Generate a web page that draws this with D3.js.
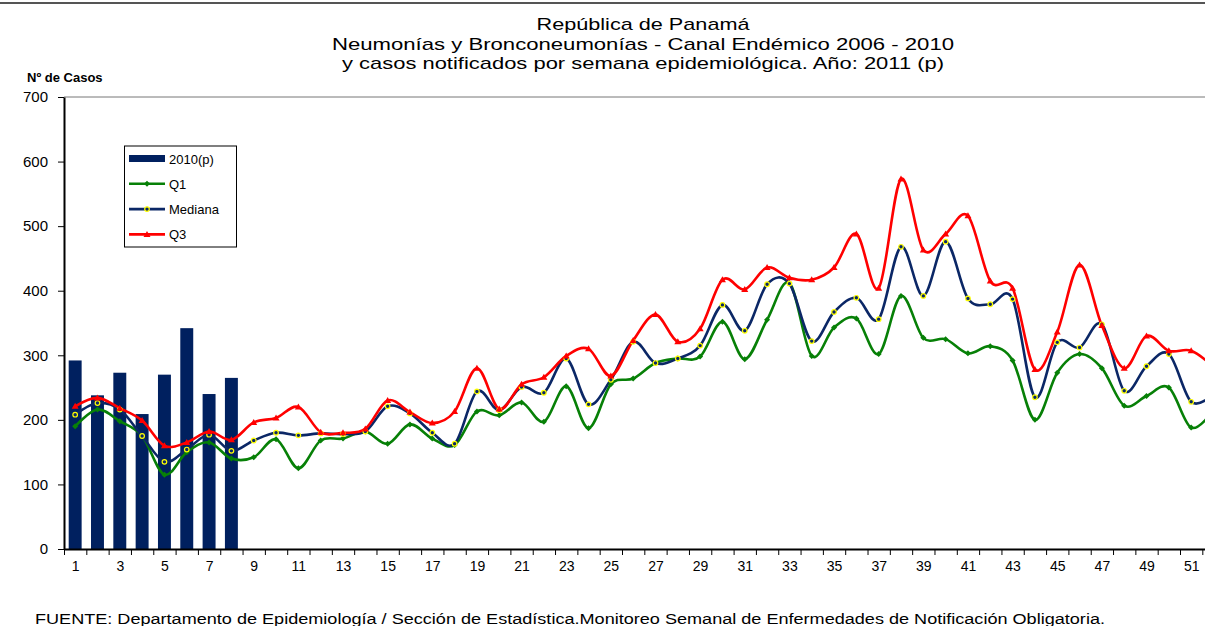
<!DOCTYPE html>
<html>
<head>
<meta charset="utf-8">
<script src="https://cdn.jsdelivr.net/npm/d3@7"></script>
<style>
  body { margin: 0; background: #fff; }
  svg { display: block; font-family: Arial, "Liberation Sans", sans-serif; }
</style>
</head>
<body>
<script>
// data
let weeks = d3.range(1, 53);
let bars2010 = [292, 238, 273, 209, 270, 342, 240, 265];
let q1 = [190, 216, 198, 175, 115, 150, 165, 140, 142, 170, 125, 168, 171, 182, 163, 193, 171, 161, 213, 207,
          227, 197, 252, 187, 255, 264, 288, 295, 298, 352, 294, 355, 412, 299, 343, 357, 302, 392, 327, 325,
          303, 314, 292, 200, 273, 302, 280, 222, 237, 250, 188, 215];
let mediana = [208, 226, 216, 175, 135, 154, 177, 152, 168, 180, 176, 179, 178, 182, 221, 210, 180, 163, 244, 215,
          251, 242, 295, 224, 262, 321, 288, 295, 315, 378, 338, 410, 411, 322, 367, 389, 356, 468, 392, 476,
          388, 379, 387, 235, 320, 312, 348, 245, 283, 302, 228, 240];
let q3 = [221, 234, 218, 199, 160, 165, 182, 169, 196, 203, 220, 181, 180, 186, 230, 212, 195, 213, 280, 217,
          255, 266, 299, 310, 268, 323, 363, 321, 341, 417, 402, 436, 420, 417, 436, 488, 404, 573, 463, 488,
          516, 415, 404, 278, 336, 440, 346, 280, 330, 307, 307, 282];
let yTicks = [0, 100, 200, 300, 400, 500, 600, 700];
let titleLines = ['República de Panamá',
                  'Neumonías y Bronconeumonías - Canal Endémico 2006  -  2010',
                  'y casos notificados por semana epidemiológica. Año: 2011 (p)'];
let fuente = 'FUENTE:  Departamento de Epidemiología / Sección de Estadística.Monitoreo Semanal de Enfermedades de Notificación Obligatoria.';

// canvas
let width = 1205;
let height = 626;
let plotLeft = 64, plotTop = 97, plotBottom = 549;
let step = 22.32;
let plotRight = plotLeft + step * weeks.length;   // plot runs past the right edge, as in the original

let svg = d3.select('body').append('svg')
  .attr('width', width)
  .attr('height', height);

// scales
let xBand = d3.scaleBand().domain(weeks).range([plotLeft, plotRight]).paddingInner(0.42).paddingOuter(0.21);
let xLin = d3.scaleLinear().domain([0.5, weeks.length + 0.5]).range([plotLeft, plotRight]);
let y = d3.scaleLinear().domain([0, 700]).range([plotBottom, plotTop]);

// frame lines
svg.append('line').attr('x1', 0).attr('x2', width).attr('y1', 3).attr('y2', 3)
  .attr('stroke', '#555').attr('stroke-width', 2);
svg.append('line').attr('x1', plotLeft).attr('x2', width).attr('y1', y(700)).attr('y2', y(700))
  .attr('stroke', '#777').attr('stroke-width', 1);

// titles
let titleLens = [213, 622, 602];
svg.selectAll('text.title')
  .data(titleLines)
  .enter()
  .append('text')
    .attr('class', 'title')
    .attr('x', (d, i) => 643 - titleLens[i] / 2)
    .attr('y', (d, i) => 30 + i * 19.5)
    .attr('textLength', (d, i) => titleLens[i])
    .attr('lengthAdjust', 'spacingAndGlyphs')
    .style('font-size', '17px')
    .attr('fill', '#000')
    .text(d => d);

svg.append('text')
  .attr('x', 27).attr('y', 82)
  .style('font-size', '13px').style('font-weight', 'bold')
  .text('Nº de Casos');

// bars
svg.selectAll('rect.bar')
  .data(bars2010)
  .enter()
  .append('rect')
    .attr('class', 'bar')
    .attr('x', (d, i) => xBand(weeks[i]))
    .attr('y', d => y(d))
    .attr('width', xBand.bandwidth())
    .attr('height', d => plotBottom - y(d))
    .attr('fill', '#00205f');

// lines
let lineGen = d3.line()
  .x((d, i) => xLin(weeks[i]))
  .y(d => y(d))
  .curve(d3.curveCatmullRom.alpha(0));

let series = [
  { name: 'Q1', values: q1, color: '#078007' },
  { name: 'Mediana', values: mediana, color: '#0b2766' },
  { name: 'Q3', values: q3, color: '#ff0000' }
];

series.forEach(s => {
  svg.append('path')
    .attr('d', lineGen(s.values))
    .attr('fill', 'none')
    .attr('stroke', s.color)
    .attr('stroke-width', 2.6);
});

// markers
let drawMarker = (g, name, cx, cy) => {
  if (name === 'Q1') {
    g.append('path')
      .attr('d', `M${cx},${cy - 3}L${cx + 3},${cy}L${cx},${cy + 3}L${cx - 3},${cy}Z`)
      .attr('fill', '#078007');
  } else if (name === 'Mediana') {
    g.append('circle').attr('cx', cx).attr('cy', cy).attr('r', 2.3)
      .attr('fill', '#0b2766').attr('stroke', '#ffff00').attr('stroke-width', 1.2);
  } else {
    g.append('path')
      .attr('d', `M${cx},${cy - 3.5}L${cx + 3.5},${cy + 2.5}L${cx - 3.5},${cy + 2.5}Z`)
      .attr('fill', '#ff0000');
  }
};
series.forEach(s => {
  let g = svg.append('g');
  s.values.forEach((v, i) => drawMarker(g, s.name, xLin(weeks[i]), y(v)));
});

// axes
let yAxis = svg.append('g')
  .attr('transform', `translate(${plotLeft},0)`)
  .call(d3.axisLeft(y).tickValues(yTicks).tickSize(6).tickSizeOuter(0).tickPadding(10));
yAxis.select('.domain').attr('stroke', '#000').attr('stroke-width', 2);
yAxis.selectAll('text').style('font-size', '15px').attr('fill', '#000');

let xTickAxis = svg.append('g')
  .attr('transform', `translate(0,${plotBottom})`)
  .call(d3.axisBottom(xLin).tickValues(d3.range(0.5, weeks.length + 1, 1)).tickFormat('').tickSize(6).tickSizeOuter(0));
xTickAxis.select('.domain').attr('stroke', '#000').attr('stroke-width', 2);

let xLabels = svg.append('g')
  .attr('transform', `translate(0,${plotBottom})`)
  .call(d3.axisBottom(xLin).tickValues(weeks.filter(w => w % 2 === 1)).tickFormat(d3.format('d')).tickSize(0).tickPadding(12));
xLabels.select('.domain').remove();
xLabels.selectAll('text').style('font-size', '14px').attr('fill', '#000');

// legend
let legend = svg.append('g').attr('id', 'legend');
legend.append('rect')
  .attr('x', 124.5).attr('y', 146).attr('width', 112).attr('height', 101)
  .attr('fill', '#fff').attr('stroke', '#000').attr('stroke-width', 1);
let legendKeys = ['2010(p)', 'Q1', 'Mediana', 'Q3'];
legendKeys.forEach((k, i) => {
  let ly = 158.5 + i * 25.3;
  if (i === 0) {
    legend.append('rect').attr('x', 129).attr('y', ly - 3.5).attr('width', 36).attr('height', 7).attr('fill', '#00205f');
  } else {
    let s = series[i - 1];
    legend.append('line').attr('x1', 129).attr('x2', 165).attr('y1', ly).attr('y2', ly)
      .attr('stroke', s.color).attr('stroke-width', 2.6);
    drawMarker(legend, s.name, 147, ly);
  }
  legend.append('text')
    .attr('x', 169).attr('y', ly + 5)
    .style('font-size', '13px')
    .text(k);
});

// source note
svg.append('text')
  .attr('x', 35).attr('y', 624)
  .attr('textLength', 1070)
  .attr('lengthAdjust', 'spacingAndGlyphs')
  .style('font-size', '14px')
  .text(fuente);
</script>
</body>
</html>
